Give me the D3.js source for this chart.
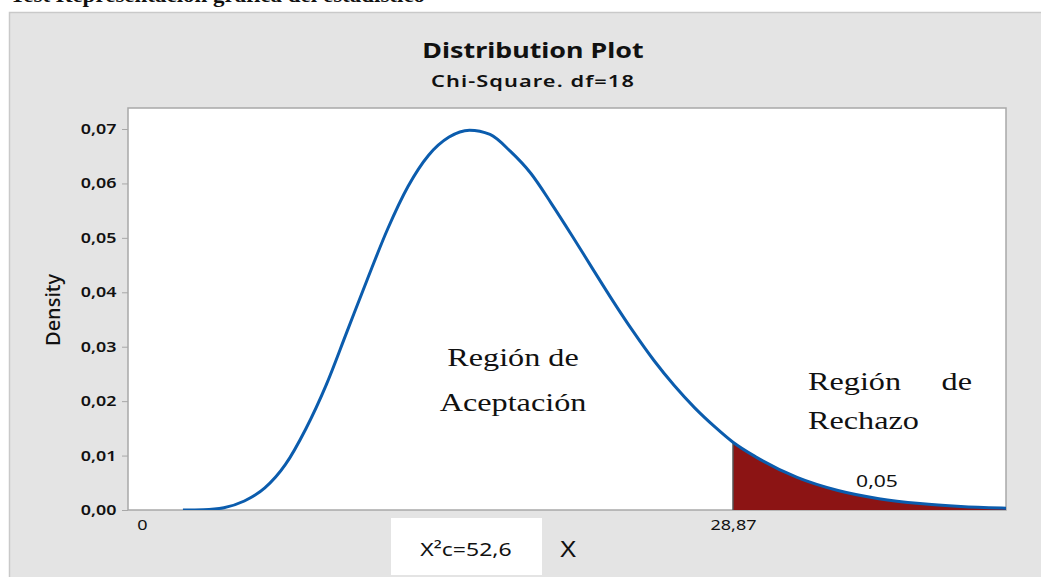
<!DOCTYPE html>
<html>
<head>
<meta charset="utf-8">
<script src="https://cdn.jsdelivr.net/npm/d3@7"></script>
<style>
  body { margin: 0; background: #fff; }
  svg { display: block; }
</style>
</head>
<body>
<svg width="1041" height="577"></svg>
<script>
// density of chi-square df=18
const xVals = [2, 3, 4, 5, 6, 7, 8, 9, 10, 11, 12, 13, 14, 15, 16, 17, 18, 19, 20, 21, 22, 23, 24, 25, 26, 27, 28, 28.87, 30, 32, 34, 36, 38, 40, 42, 43];
const yVals = [0.00000, 0.00005, 0.00043, 0.00165, 0.00405, 0.00832, 0.01489, 0.02299, 0.03264, 0.04231, 0.05163, 0.05948, 0.06519, 0.06853, 0.06979, 0.06900, 0.06588, 0.06182, 0.05630, 0.05044, 0.04440, 0.03843, 0.03276, 0.02751, 0.02287, 0.01877, 0.01522, 0.01245, 0.00972, 0.00599, 0.00358, 0.00208, 0.00118, 0.00065, 0.00036, 0.00026];
const yTicks = [0, 0.01, 0.02, 0.03, 0.04, 0.05, 0.06, 0.07];
const xTickVals = [0, 28.87];
const xTickLabels = ['0', '28,87'];
const critical = 28.87;
const alphaLabel = "0,05";
const statLabel = "X²c=52,6";

const svg = d3.select('svg');
const W = +svg.attr('width');
const H = +svg.attr('height');

// the source picture is stretched sideways, so text gets a horizontal scale
const SX = 1.28;

const plot = {left: 128, right: 1006, top: 108, bottom: 510};

const xScale = d3.scaleLinear().domain([0, critical]).range([142, 733]);
const yScale = d3.scaleLinear().domain([0, 0.07]).range([510, 129]);

const loc = d3.formatLocale({decimal: ",", thousands: ".", grouping: [3], currency: ["", ""]});
const fmt = loc.format(".2f");

const sans = 'Noto Sans, sans-serif';
const serif = 'Liberation Serif, Times New Roman, serif';

function label(txt, x, y, o) {
    return svg.append('text').text(txt)
        .attr('transform', `translate(${x},${y}) scale(${o.sx || SX},1)${o.rot ? ' rotate(' + o.rot + ')' : ''}`)
        .attr('text-anchor', o.anchor || 'middle')
        .attr('font-family', o.font || sans)
        .attr('font-size', o.size)
        .attr('font-weight', o.weight || 'normal')
        .attr('letter-spacing', o.ls || 0)
        .attr('fill', '#111');
}

// clipped caption at the very top
label('Test  Representación gráfica del estadístico', 10, 2,
    {anchor: 'start', font: serif, size: 20, weight: 'bold', sx: 1.15});

// outer grey frame
svg.append('rect')
    .attr('x', 9.5).attr('y', 12.5)
    .attr('width', W).attr('height', H)
    .attr('fill', '#e4e4e4')
    .attr('stroke', '#c9c9c9').attr('stroke-width', 1.5);

// plot area
svg.append('rect')
    .attr('x', plot.left).attr('y', plot.top)
    .attr('width', plot.right - plot.left).attr('height', plot.bottom - plot.top)
    .attr('fill', '#fff')
    .attr('stroke', '#a8a8a8').attr('stroke-width', 1.5);

svg.append('clipPath').attr('id', 'clip')
    .append('rect')
    .attr('x', plot.left).attr('y', plot.top)
    .attr('width', plot.right - plot.left).attr('height', plot.bottom - plot.top);

// titles
label('Distribution Plot', 533, 58, {size: 21, weight: 'bold'});
label('Chi-Square. df=18', 533, 87, {size: 16, weight: 600, ls: 0.8, sx: 1.36});

const pts = xVals.map((x, i) => ({x: x, y: yVals[i]}));
const g = svg.append('g').attr('clip-path', 'url(#clip)');

// rejection region
const tail = pts.filter(d => d.x >= critical);
g.append('path')
    .datum(tail)
    .attr('fill', '#8c1414')
    .attr('d', d3.area().x(d => xScale(d.x)).y0(yScale(0)).y1(d => yScale(d.y)).curve(d3.curveMonotoneX));

g.append('line')
    .attr('x1', xScale(critical)).attr('x2', xScale(critical))
    .attr('y1', yScale(0)).attr('y2', yScale(yVals[xVals.indexOf(critical)]))
    .attr('stroke', '#555').attr('stroke-width', 1.5);

// density curve
g.append('path')
    .datum(pts)
    .attr('fill', 'none')
    .attr('stroke', '#0b5cad')
    .attr('stroke-width', 3)
    .attr('d', d3.line().x(d => xScale(d.x)).y(d => yScale(d.y)).curve(d3.curveMonotoneX));

// y axis
const gY = svg.append('g')
    .attr('transform', `translate(${plot.left},0)`)
    .call(d3.axisLeft(yScale).tickValues(yTicks).tickFormat(fmt).tickSize(6).tickPadding(3));
gY.select('.domain').remove();
gY.selectAll('line').attr('stroke', '#a8a8a8');
gY.selectAll('text')
    .attr('transform', `scale(${SX},1)`)
    .attr('font-family', sans)
    .attr('font-size', 14).attr('font-weight', 600).attr('fill', '#111');

label('Density', 60, 310, {size: 20, weight: 500, rot: -90, sx: 1});

// x labels
const gX = svg.append('g')
    .attr('transform', `translate(0,${plot.bottom})`)
    .call(d3.axisBottom(xScale).tickValues(xTickVals).tickFormat((d, i) => xTickLabels[i]).tickSize(0).tickPadding(9));
gX.select('.domain').remove();
gX.selectAll('text')
    .attr('transform', 'scale(1.2,1)')
    .attr('font-family', sans)
    .attr('font-size', 15).attr('fill', '#111');

// statistic box + axis title
svg.append('rect')
    .attr('x', 391).attr('y', 518).attr('width', 151).attr('height', 57)
    .attr('fill', '#fff');
label(statLabel, 466, 556, {size: 18});
label('X', 568, 557, {size: 21});

// region labels
label('Región de', 513, 366, {font: serif, size: 26, sx: 1.24});
label('Aceptación', 513, 411, {font: serif, size: 26, sx: 1.24});
label('Región', 808, 390, {font: serif, size: 26, sx: 1.24, anchor: 'start'});
label('de', 972, 390, {font: serif, size: 26, sx: 1.24, anchor: 'end'});
label('Rechazo', 808, 429, {font: serif, size: 26, sx: 1.24, anchor: 'start'});

label(alphaLabel, 877, 487, {size: 16, sx: 1.32});
</script>
</body>
</html>
